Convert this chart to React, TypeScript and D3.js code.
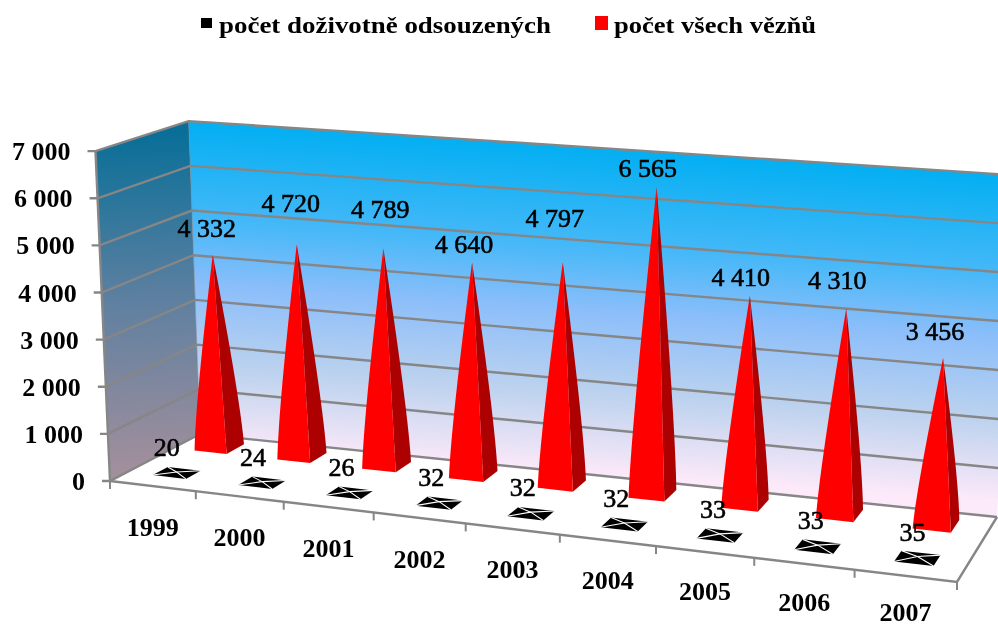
import React from "react";
import * as d3 from "d3";

const years = ["1999","2000","2001","2002","2003","2004","2005","2006","2007"];
const lifeSentenced = [20,24,26,32,32,32,33,33,35];
const allPrisoners = [4332,4720,4789,4640,4797,6565,4410,4310,3456];
const valueTicks = [0,1000,2000,3000,4000,5000,6000,7000];
const legendNames = ["počet doživotně odsouzených","počet všech vězňů"];
const fmt = (n:number)=> String(n).replace(/\B(?=(\d{3})+$)/g," ");

// layout
const FL=[110,481],FR=[957,582],BR=[997,517],BL=[200,434];
const redLabelShift = [[-6,-26],[-6,-40],[-3,-38],[-8,-17],[-8,-43],[-9,-18],[-9,-18],[-9,-27],[-8,-26]];
const blackLabelShift = [-10,-9,-8,-8,-8,-8,-7,-7,-5];

type P = [number,number];
const warp=(u:number)=>(u+0.11*u*u)/1.11;
const floorAt=(u:number,v:number):P=>{
  const w=warp(u);
  const fx=FL[0]+(FR[0]-FL[0])*w, fy=FL[1]+(FR[1]-FL[1])*w;
  const bx=BL[0]+(BR[0]-BL[0])*w, by=BL[1]+(BR[1]-BL[1])*w;
  return [fx+(bx-fx)*v,fy+(by-fy)*v];
};
const tScale=d3.scaleLinear().domain([0,7000]).range([0,1]);
const uScale=d3.scaleBand<string>().domain(years).range([0,1]);
const heightAt=(x:number,y:number)=>157-0.0011*x+0.3596*y;
const leanAt=d3.scaleLinear().domain([110,997]).range([-14.5,16.5]);
const project=(u:number,v:number,value:number,hf=1):P=>{
  const t=tScale(value);
  const a=floorAt(u,v);
  return [a[0]+leanAt(a[0])*t,a[1]-heightAt(a[0],a[1])*t*hf];
};
const line=d3.line<P>();
const poly=(pts:P[])=>line(pts)+"Z";

const RED_V=[0.70,0.90], BLACK_V=[0.19,0.36];
const BAR_W=0.39, RED_SHIFT=-0.0045, RED_H=0.98, SHOULDER=0.24, BULGE=0.075;

function pyramid(i:number,value:number,vr:number[],shift=0,hf=1){
  const u0=uScale(years[i])!, bw=uScale.bandwidth();
  const uc=u0+bw/2+shift, hw=bw*BAR_W/2, vc=(vr[0]+vr[1])/2;
  const A=project(uc-hw,vr[0],0),B=project(uc+hw,vr[0],0),C=project(uc+hw,vr[1],0),D=project(uc-hw,vr[1],0);
  return {A,B,C,D,apex:project(uc,vc,value,hf)};
}
const shoulder=(p:P,apex:P,dx:number):P=>[p[0]+(apex[0]-p[0])*SHOULDER+dx,p[1]+(apex[1]-p[1])*SHOULDER];
const faceFront=(m:ReturnType<typeof pyramid>,w:number)=>{
  const c=shoulder(m.A,m.apex,-w);
  return `M${m.A}L${m.B}L${m.apex}Q${c} ${m.A}Z`;
};
const faceSide=(m:ReturnType<typeof pyramid>,w:number)=>{
  const c=shoulder(m.C,m.apex,w);
  return `M${m.B}L${m.C}Q${c} ${m.apex}Z`;
};
const serif="'Liberation Serif','Times New Roman',serif";

export default function App(){
  const wallBack=[project(0,1,0),project(1,1,0),project(1,1,7000),project(0,1,7000)];
  const wallLeft=[project(0,0,0),project(0,1,0),project(0,1,7000),project(0,0,7000)];
  const floor=[project(0,0,0),project(1,0,0),project(1,1,0),project(0,1,0)];
  return (
    <svg width={998} height={627} style={{position:"absolute",left:0,top:0,display:"block",background:"#fff"}} fontFamily={serif}>
      <defs>
        <linearGradient id="back" gradientUnits="userSpaceOnUse" x1={600} y1={149} x2={579} y2={473}>
          <stop offset="0" stopColor="#03aff2"/>
          <stop offset="0.3" stopColor="#45b8f8"/>
          <stop offset="0.5" stopColor="#8cbefa"/>
          <stop offset="0.75" stopColor="#bcd2ee"/>
          <stop offset="1" stopColor="#fce9f9"/>
        </linearGradient>
        <linearGradient id="left" gradientUnits="userSpaceOnUse" x1={140} y1={135} x2={150} y2={470}>
          <stop offset="0" stopColor="#0a6f98"/>
          <stop offset="0.5" stopColor="#5f80a0"/>
          <stop offset="1" stopColor="#a28f9c"/>
        </linearGradient>
        <filter id="soft" x="-5%" y="-20%" width="110%" height="140%"><feGaussianBlur stdDeviation="0.45"/></filter>
      </defs>
      <path d={poly(wallBack)} fill="url(#back)"/>
      <path d={poly(wallLeft)} fill="url(#left)"/>
      <path d={poly(floor)} fill="#fff"/>
      {valueTicks.map(v=>{
        const a=project(0,0,v),b=project(0,1,v),c=project(1,1,v);
        return <g key={v}>
          <path d={line([[a[0]-8,a[1]],a,b,c])!} fill="none" stroke="#868686" strokeWidth={2.4}/>
          <text x={a[0]-25} y={a[1]+9} textAnchor="end" fontSize={26} fontWeight={700} filter="url(#soft)">{fmt(v)}</text>
        </g>;
      })}
      <path d={line([project(0,0,0),project(0,0,7000)])!} stroke="#868686" strokeWidth={2.4} fill="none"/>
      <path d={line([project(0,1,0),project(0,1,7000)])!} stroke="#7b8a98" strokeWidth={1} fill="none" opacity={0.6}/>
      <path d={line([project(0,0,0),project(1,0,0),project(1,1,0)])!} stroke="#868686" strokeWidth={2.4} fill="none"/>
      {d3.range(years.length+1).map(i=>{
        const u=i/years.length, p=project(u,0,0);
        return <line key={i} x1={p[0]} y1={p[1]} x2={p[0]} y2={p[1]+8} stroke="#868686" strokeWidth={2}/>;
      })}
      {lifeSentenced.map((v,i)=>{
        const m=pyramid(i,v,BLACK_V);
        return <g key={i} filter="url(#soft)">
          <path d={poly([m.A,m.B,m.C,m.D])} fill="#000"/>
          <path d={line([m.A,m.apex,m.C])!} stroke="#fff" strokeWidth={1.1} fill="none"/>
          <path d={line([m.B,m.apex,m.D])!} stroke="#fff" strokeWidth={1.1} fill="none"/>
        </g>;
      })}
      {allPrisoners.map((v,i)=>{
        const m=pyramid(i,v,RED_V,RED_SHIFT,RED_H);
        const w=(m.C[0]-m.A[0])*BULGE;
        return <g key={i}>
          <path d={faceSide(m,w)} fill="#ad0000"/>
          <path d={faceFront(m,w)} fill="#ff0000"/>
        </g>;
      })}
      {lifeSentenced.map((v,i)=>{
        const m=pyramid(i,v,BLACK_V);
        return <text key={i} x={m.apex[0]+blackLabelShift[i]} y={m.apex[1]-16} textAnchor="middle" fontSize={26} filter="url(#soft)" stroke="#000" strokeWidth={0.6}>{v}</text>;
      })}
      {allPrisoners.map((v,i)=>{
        const m=pyramid(i,v,RED_V,RED_SHIFT,RED_H);
        return <text key={i} x={m.apex[0]+redLabelShift[i][0]} y={m.apex[1]+redLabelShift[i][1]+8} textAnchor="middle" fontSize={26} filter="url(#soft)" stroke="#000" strokeWidth={0.6}>{fmt(v)}</text>;
      })}
      {years.map((y)=>{
        const u=uScale(y)!+uScale.bandwidth()/2;
        const p=project(u,0,0);
        return <text key={y} x={p[0]} y={p[1]+50-5.6*u*u*u} textAnchor="middle" fontSize={26} fontWeight={700} filter="url(#soft)">{y}</text>;
      })}
      <rect x={201} y={18} width={11} height={10} fill="#000"/>
      <text x={219} y={33} fontSize={23} fontWeight={700} textLength={332} lengthAdjust="spacingAndGlyphs" filter="url(#soft)">{legendNames[0]}</text>
      <rect x={595} y={16} width={13} height={14} fill="#ff0000"/>
      <text x={614} y={33} fontSize={23} fontWeight={700} textLength={202} lengthAdjust="spacingAndGlyphs" filter="url(#soft)">{legendNames[1]}</text>
    </svg>
  );
}
